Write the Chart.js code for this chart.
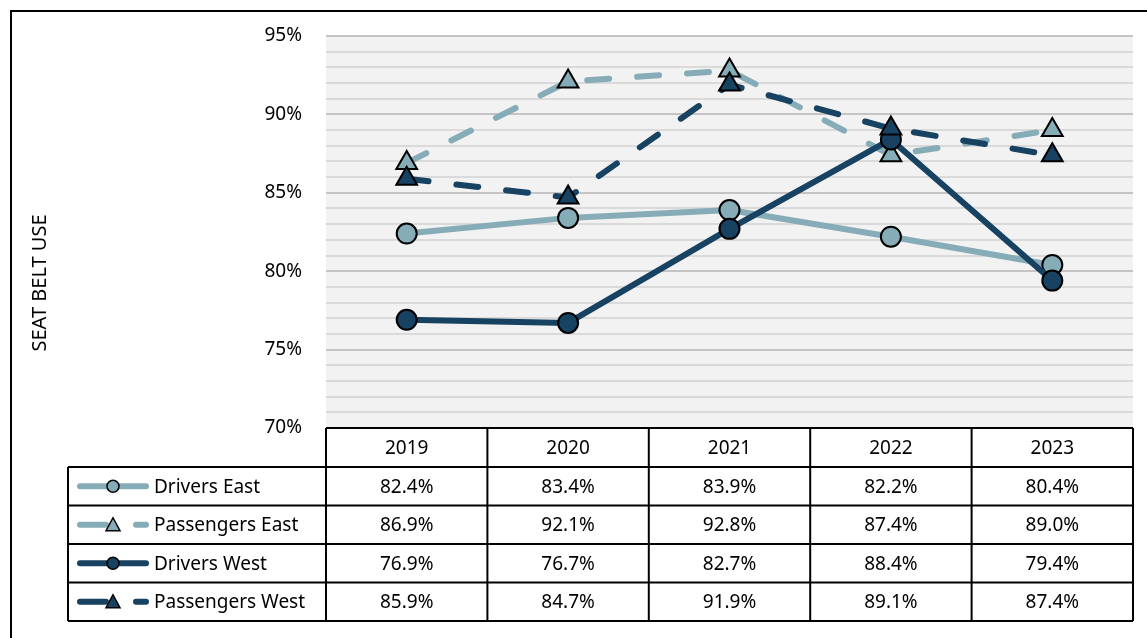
<!DOCTYPE html>
<html>
<head>
<meta charset="utf-8">
<script src="https://cdn.jsdelivr.net/npm/chart.js@4"></script>
<style>
  html, body { margin: 0; padding: 0; background: #fff; }
  #wrap { width: 1147px; height: 638px; position: relative; }
</style>
</head>
<body>
<div id="wrap"><canvas id="grafico" width="1147" height="638"></canvas></div>
<script>
// Dados
const anos = ["2019", "2020", "2021", "2022", "2023"];
const motoristasLeste = [82.4, 83.4, 83.9, 82.2, 80.4];
const passageirosLeste = [86.9, 92.1, 92.8, 87.4, 89.0];
const motoristasOeste = [76.9, 76.7, 82.7, 88.4, 79.4];
const passageirosOeste = [85.9, 84.7, 91.9, 89.1, 87.4];
const nomesSeries = ["Drivers East", "Passengers East", "Drivers West", "Passengers West"];
const tituloEixoY = "SEAT BELT USE";

const CLARO = "#86adb7";
const ESCURO = "#174262";
const FONTE = "'Noto Sans', 'Open Sans', sans-serif";

function serie(nome, dados, cor, tracejado, estilo, ordem) {
  return {
    label: nome,
    data: dados,
    borderColor: cor,
    backgroundColor: cor,
    borderWidth: 6,
    borderDash: tracejado ? [22, 28] : [],
    borderCapStyle: "round",
    borderJoinStyle: "round",
    pointStyle: estilo,
    pointRadius: estilo === "triangle" ? 12 : 10,
    pointBorderColor: "#000",
    pointBorderWidth: 2,
    pointBackgroundColor: cor,
    tension: 0,
    order: ordem
  };
}

const conjuntos = [
  serie(nomesSeries[0], motoristasLeste, CLARO, false, "circle", 3),
  serie(nomesSeries[1], passageirosLeste, CLARO, true, "triangle", 2),
  serie(nomesSeries[2], motoristasOeste, ESCURO, false, "circle", 1),
  serie(nomesSeries[3], passageirosOeste, ESCURO, true, "triangle", 0)
];
const valoresTabela = [motoristasLeste, passageirosLeste, motoristasOeste, passageirosOeste];

// Fundo da área do gráfico + borda externa
const pluginFundo = {
  id: "fundo",
  beforeDraw(chart) {
    const { ctx, chartArea: a } = chart;
    ctx.save();
    ctx.fillStyle = "#f2f2f2";
    ctx.fillRect(a.left, a.top, a.right - a.left, a.bottom - a.top);
    ctx.strokeStyle = "#000";
    ctx.lineWidth = 2;
    ctx.beginPath();
    ctx.moveTo(11, 700);
    ctx.lineTo(11, 11);
    ctx.lineTo(1200, 11);
    ctx.stroke();
    ctx.restore();
  }
};

// Tabela de dados e título do eixo
const pluginTabela = {
  id: "tabela",
  afterDraw(chart) {
    const { ctx, chartArea: a } = chart;
    const x = chart.scales.x;
    const larg = (x.getPixelForValue(1) - x.getPixelForValue(0));
    const topo = a.bottom;
    const altCab = 39;
    const altLin = 38.5;
    const esq = 68;
    ctx.save();
    ctx.font = "19px " + FONTE;
    ctx.fillStyle = "#000";
    ctx.textAlign = "center";
    ctx.textBaseline = "middle";

    // cabeçalho (anos)
    anos.forEach((ano, i) => {
      ctx.fillText(ano, x.getPixelForValue(i), topo + altCab / 2 + 1);
    });
    // valores
    valoresTabela.forEach((linha, r) => {
      const cy = topo + altCab + altLin * r + altLin / 2 + 1;
      linha.forEach((v, i) => {
        ctx.fillText(v.toFixed(1) + "%", x.getPixelForValue(i), cy);
      });
    });

    // linhas da grade da tabela
    ctx.strokeStyle = "#000";
    ctx.lineWidth = 2;
    ctx.beginPath();
    const fundo = topo + altCab + altLin * 4;
    ctx.moveTo(a.left, topo); ctx.lineTo(a.right, topo);
    for (let r = 0; r <= 4; r++) {
      const y = topo + altCab + altLin * r;
      ctx.moveTo(esq, y); ctx.lineTo(a.right, y);
    }
    ctx.moveTo(esq, topo + altCab); ctx.lineTo(esq, fundo);
    for (let i = 0; i <= anos.length; i++) {
      const xx = a.left + larg * i;
      ctx.moveTo(xx, topo); ctx.lineTo(xx, fundo);
    }
    ctx.stroke();

    // chaves da legenda
    conjuntos.forEach((ds, r) => {
      const cy = topo + altCab + altLin * r + altLin / 2;
      ctx.strokeStyle = ds.borderColor;
      ctx.lineWidth = 6;
      ctx.lineCap = "round";
      ctx.beginPath();
      if (ds.borderDash.length) {
        ctx.moveTo(80, cy); ctx.lineTo(106, cy);
        ctx.moveTo(136, cy); ctx.lineTo(146, cy);
      } else {
        ctx.moveTo(80, cy); ctx.lineTo(146, cy);
      }
      ctx.stroke();
      ctx.fillStyle = ds.borderColor;
      ctx.strokeStyle = "#000";
      ctx.lineWidth = 1.5;
      ctx.beginPath();
      if (ds.pointStyle === "circle") {
        ctx.arc(113, cy, 6, 0, Math.PI * 2);
      } else {
        ctx.moveTo(113, cy - 7); ctx.lineTo(120, cy + 6); ctx.lineTo(106, cy + 6); ctx.closePath();
      }
      ctx.fill();
      ctx.stroke();
      ctx.fillStyle = "#000";
      ctx.textAlign = "left";
      ctx.fillText(ds.label, 154, cy + 1);
    });

    // título do eixo Y
    ctx.translate(40, 283);
    ctx.rotate(-Math.PI / 2);
    ctx.textAlign = "center";
    ctx.font = "20px " + FONTE;
    ctx.fillText(tituloEixoY, 0, 0);
    ctx.restore();
  }
};

new Chart(document.getElementById("grafico"), {
  type: "line",
  data: { labels: anos, datasets: conjuntos },
  options: {
    responsive: false,
    animation: false,
    layout: { padding: { left: 10, right: 0, top: 36, bottom: 210 } },
    plugins: { legend: { display: false }, tooltip: { enabled: false } },
    scales: {
      x: { display: false, offset: true },
      y: {
        min: 70,
        max: 95,
        afterFit(scale) { scale.width = 316; },
        border: { display: false },
        grid: {
          drawTicks: false,
          lineWidth: 2,
          color: (c) => (c.tick && c.tick.value % 5 === 0) ? "#c4c4c4" : "#dadada"
        },
        ticks: {
          stepSize: 1,
          autoSkip: false,
          padding: 24,
          color: "#000",
          font: { family: FONTE, size: 19 },
          callback: (v) => (v % 5 === 0 ? v + "%" : "")
        }
      }
    }
  },
  plugins: [pluginFundo, pluginTabela]
});
</script>
</body>
</html>
